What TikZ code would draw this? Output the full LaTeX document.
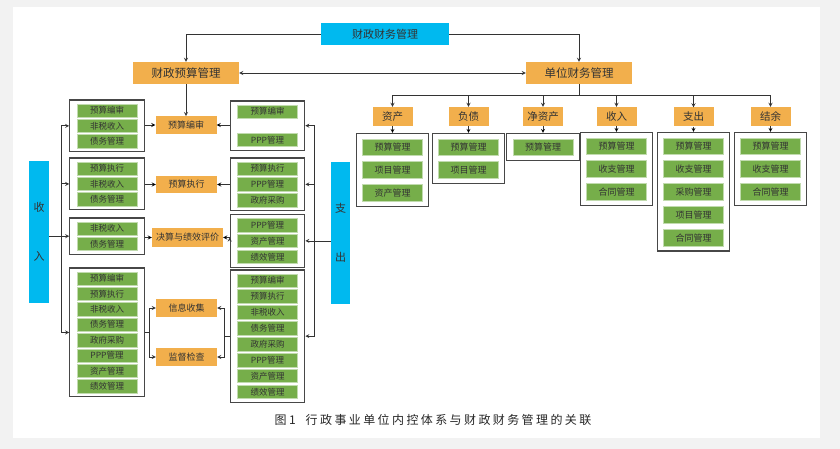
\documentclass[tikz,border=0pt]{standalone}
\usepackage{fontspec}
\setmainfont{Noto Sans CJK SC}
\usepackage{tikz}
\usetikzlibrary{positioning,fit}
\definecolor{skyblue}{HTML}{00B9EF}
\definecolor{amber}{HTML}{F2AF4C}
\definecolor{leafgreen}{HTML}{76AE4A}
\definecolor{inkgray}{HTML}{333333}

\begin{document}
\begin{tikzpicture}[x=1pt,y=-1pt,>=stealth,
      every node/.style={inner sep=0pt,text=inkgray},
      blue node/.style={rectangle,fill=skyblue,font=\fontsize{11}{13}\selectfont},
      head node/.style={rectangle,fill=amber,minimum width=106pt,minimum height=22pt,font=\fontsize{11.5}{13}\selectfont},
      cat node/.style={rectangle,fill=amber,minimum width=40pt,minimum height=19pt,font=\fontsize{10.5}{12}\selectfont},
      task node/.style={rectangle,fill=amber,minimum width=61pt,minimum height=17.5pt,font=\fontsize{9}{11}\selectfont},
      green item/.style={rectangle,fill=leafgreen,draw=leafgreen!45!white,line width=0.4pt,minimum width=60pt,minimum height=13.5pt,font=\fontsize{8.5}{10}\selectfont},
      big item/.style={green item,minimum height=16.5pt,font=\fontsize{9}{11}\selectfont},
      group box/.style={rectangle,draw=black!72,line width=1.2pt,inner xsep=7pt,inner ysep=3.5pt},
      top box/.style={group box,inner xsep=6pt,inner ysep=5pt},
      link/.style={draw=inkgray,line width=0.8pt}]
      \fill[black!5] (0,0) rectangle (840,449);
      \fill[white] (13,7) rectangle (820,438);
      \useasboundingbox (0,0) rectangle (840,449);

      % top level
      \node[blue node,minimum width=128pt,minimum height=22pt] (finance) at (385,34) {财政财务管理};
      \node[head node] (budget) at (186,73) {财政预算管理};
      \node[head node] (unit) at (579,73) {单位财务管理};

      % unit finance categories
      \node[cat node] (assets) at (392.5,116.5) {资产};
      \node[cat node] (debts) at (468.5,116.5) {负债};
      \node[cat node] (netassets) at (543,116.5) {净资产};
      \node[cat node] (income) at (616.5,116.5) {收入};
      \node[cat node] (spending) at (693.5,117) {支出};
      \node[cat node] (balance) at (770.5,116.5) {结余};

      \node[big item] (a1) at (392.5,147) {预算管理};
      \node[big item,below=6pt of a1] (a2) {项目管理};
      \node[big item,below=6pt of a2] (a3) {资产管理};
      \node[big item] (d1) at (468.5,147) {预算管理};
      \node[big item,below=6pt of d1] (d2) {项目管理};
      \node[big item] (n1) at (543,147) {预算管理};
      \node[big item] (i1) at (616.5,146) {预算管理};
      \node[big item,below=6pt of i1] (i2) {收支管理};
      \node[big item,below=6pt of i2] (i3) {合同管理};
      \node[big item] (s1) at (693.5,146) {预算管理};
      \node[big item,below=6pt of s1] (s2) {收支管理};
      \node[big item,below=6pt of s2] (s3) {采购管理};
      \node[big item,below=6pt of s3] (s4) {项目管理};
      \node[big item,below=6pt of s4] (s5) {合同管理};
      \node[big item] (b1) at (770.5,146) {预算管理};
      \node[big item,below=6pt of b1] (b2) {收支管理};
      \node[big item,below=6pt of b2] (b3) {合同管理};

      \node[top box,fit=(a1)(a3)] (ag) {};
      \node[top box,fit=(d1)(d2)] (dg) {};
      \node[top box,fit=(n1)] (ng) {};
      \node[top box,fit=(i1)(i3)] (ig) {};
      \node[top box,fit=(s1)(s5)] (sg) {};
      \node[top box,fit=(b1)(b3)] (bg) {};

      % revenue and outlay bars
      \node[blue node,minimum width=20pt,minimum height=142pt,align=center] (revenue) at (39,232) {收\\[36pt]入};
      \node[blue node,minimum width=19pt,minimum height=142pt,align=center] (outlay) at (340.5,233) {支\\[36pt]出};

      % left groups
      \node[green item] (l1a) at (107,110.5) {预算编审};
      \node[green item,below=1.5pt of l1a] (l1b) {非税收入};
      \node[green item,below=1.5pt of l1b] (l1c) {债务管理};
      \node[green item] (l2a) at (107,168.5) {预算执行};
      \node[green item,below=1.5pt of l2a] (l2b) {非税收入};
      \node[green item,below=1.5pt of l2b] (l2c) {债务管理};
      \node[green item] (l3a) at (107,228.5) {非税收入};
      \node[green item,below=1.5pt of l3a] (l3b) {债务管理};
      \node[green item] (l4a) at (107,278.5) {预算编审};
      \node[green item,below=1.5pt of l4a] (l4b) {预算执行};
      \node[green item,below=1.5pt of l4b] (l4c) {非税收入};
      \node[green item,below=1.5pt of l4c] (l4d) {债务管理};
      \node[green item,below=1.5pt of l4d] (l4e) {政府采购};
      \node[green item,below=1.5pt of l4e] (l4f) {PPP管理};
      \node[green item,below=1.5pt of l4f] (l4g) {资产管理};
      \node[green item,below=1.5pt of l4g] (l4h) {绩效管理};

      \node[group box,fit=(l1a)(l1c)] (lg1) {};
      \node[group box,fit=(l2a)(l2c)] (lg2) {};
      \node[group box,fit=(l3a)(l3b)] (lg3) {};
      \node[group box,fit=(l4a)(l4h)] (lg4) {};

      % right groups
      \node[green item] (r1a) at (267.5,111.5) {预算编审};
      \node[green item,below=14.5pt of r1a] (r1b) {PPP管理};
      \node[green item] (r2a) at (267.5,168.5) {预算执行};
      \node[green item,below=2pt of r2a] (r2b) {PPP管理};
      \node[green item,below=2pt of r2b] (r2c) {政府采购};
      \node[green item] (r3a) at (267.5,225) {PPP管理};
      \node[green item,below=2pt of r3a] (r3b) {资产管理};
      \node[green item,below=2pt of r3b] (r3c) {绩效管理};
      \node[green item] (r4a) at (267.5,280.5) {预算编审};
      \node[green item,below=2pt of r4a] (r4b) {预算执行};
      \node[green item,below=2pt of r4b] (r4c) {非税收入};
      \node[green item,below=2pt of r4c] (r4d) {债务管理};
      \node[green item,below=2pt of r4d] (r4e) {政府采购};
      \node[green item,below=2pt of r4e] (r4f) {PPP管理};
      \node[green item,below=2pt of r4f] (r4g) {资产管理};
      \node[green item,below=2pt of r4g] (r4h) {绩效管理};

      \node[group box,fit=(r1a)(r1b)] (rg1) {};
      \node[group box,fit=(r2a)(r2c)] (rg2) {};
      \node[group box,fit=(r3a)(r3c)] (rg3) {};
      \node[group box,fit=(r4a)(r4h)] (rg4) {};

      % budget tasks
      \node[task node] (compile) at (186,125) {预算编审};
      \node[task node] (execute) at (186.5,184.5) {预算执行};
      \node[task node,minimum width=71pt,minimum height=19pt] (evaluate) at (187.5,237.5) {决算与绩效评价};
      \node[task node] (collect) at (186.5,308) {信息收集};
      \node[task node] (inspect) at (186.5,357) {监督检查};

      \coordinate (ubus) at (579,95);
      \coordinate (lbus) at ([xshift=-8pt]lg3.west);
      \coordinate (rbus) at ([xshift=9pt]rg3.east);
      \coordinate (ljoin) at ([xshift=5pt]lg4.east);
      \coordinate (rjoin) at ([xshift=-5pt]rg4.west);

      \draw[link,->] (finance.west) -| (budget.north);
      \draw[link,->] (finance.east) -| (unit.north);
      \draw[link,<->] (budget.east) -- (unit.west);
      \draw[link,->] (budget.south) -- (compile.north);

      \draw[link] (unit.south) -- (ubus);
      \draw[link,->] (ubus) -| (assets.north);
      \draw[link,->] (ubus) -| (debts.north);
      \draw[link,->] (ubus) -| (netassets.north);
      \draw[link,->] (ubus) -| (income.north);
      \draw[link,->] (ubus) -| (spending.north);
      \draw[link,->] (ubus) -| (balance.north);

      \path[link,->]
        (assets) edge (ag)
        (debts) edge (dg)
        (netassets) edge (ng)
        (income) edge (ig)
        (spending) edge (sg)
        (balance) edge (bg)

        (compile.west -| lg1.east) edge (compile.west)
        (execute.west -| lg2.east) edge (execute.west)
        (evaluate.west -| lg3.east) edge (evaluate.west)
        (compile.east -| rg1.west) edge (compile.east)
        (execute.east -| rg2.west) edge (execute.east)
        (evaluate.east -| rg3.west) edge (evaluate.east);

      \draw[link] (revenue.east |- lbus) -- (lbus);
      \draw[link,->] (lbus) |- (lg1.west);
      \draw[link,->] (lbus) |- (lg2.west);
      \draw[link,->] (lbus) |- (lg3.west);
      \draw[link,->] (lbus) |- (lg4.west);

      \draw[link] (outlay.west |- rbus) -- (rbus);
      \draw[link,->] (rbus) |- (rg1.east);
      \draw[link,->] (rbus) |- (rg2.east);
      \draw[link,->] (rbus) |- (rg3.east);
      \draw[link,->] (rbus) |- (rg4.east);

      \draw[link] (lg4.east) -- (ljoin);
      \draw[link,->] (ljoin) |- (collect.west);
      \draw[link,->] (ljoin) |- (inspect.west);
      \draw[link] (rg4.west) -- (rjoin);
      \draw[link,->] (rjoin) |- (collect.east);
      \draw[link,->] (rjoin) |- (inspect.east);

      \node[text=black!85,font=\fontsize{12}{14}\selectfont] (caption) at (433,420)
        {\addfontfeatures{LetterSpace=20}图1\hspace{10pt}行政事业单位内控体系与财政财务管理的关联};
    \end{tikzpicture}
\end{document}
